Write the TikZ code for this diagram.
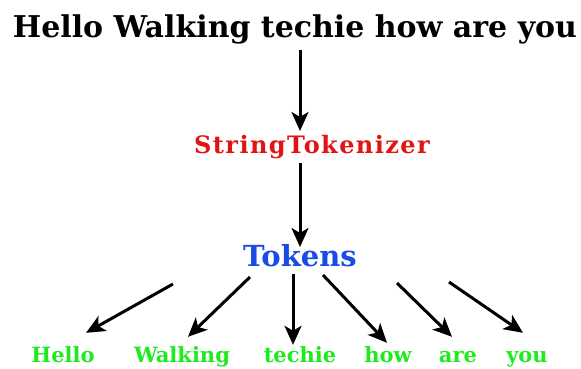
\documentclass[tikz,border=0pt]{standalone}
\usepackage{fontspec}
\setmainfont{DejaVu Serif}
\newfontfamily\spacedserif[LetterSpace=6]{DejaVu Serif}
\usetikzlibrary{arrows.meta}

\definecolor{tokred}{RGB}{225,20,20}
\definecolor{tokblue}{RGB}{25,75,230}
\definecolor{tokgreen}{RGB}{30,235,30}

\begin{document}
\begin{tikzpicture}[
        x=1pt, y=-1pt,
        arr/.style = {draw, line width=3pt, -{Stealth[length=19pt, width=17pt, inset=5pt]}}, % Стрелки
        word/.style = {font=\bfseries\fontsize{21}{21}\selectfont, text=tokgreen, inner sep=0pt, anchor=base,
                       text height=16pt, text depth=4pt}, % Слова
    ]
    \useasboundingbox (0,0) rectangle (581,369);

    \node[inner sep=0pt, anchor=base, font=\bfseries\fontsize{30}{30}\selectfont] (sentence) at (295,38) {Hello Walking techie how are you};
    \node[inner sep=0pt, anchor=base, text=tokred, font=\spacedserif\bfseries\fontsize{24}{24}\selectfont] (tokenizer) at (312,153) {StringTokenizer};
    \node[inner sep=0pt, anchor=base, text=tokblue, font=\bfseries\fontsize{29}{29}\selectfont] (tokens) at (300,266) {Tokens};

    \node[word] (hello) at (63,362) {Hello};
    \node[word] (walking) at (182,362) {Walking};
    \node[word] (techie) at (300,362) {techie};
    \node[word] (how) at (388,362) {how};
    \node[word] (are) at (458,362) {are};
    \node[word] (you) at (527,362) {you};

    \draw[arr] (sentence.south -| tokens) ++(0,5) -- (300,131);
    \draw[arr] (tokenizer.south -| tokens) ++(0,4) -- (300,247);

    % от токенов к словам
    \coordinate (t1) at (173,284);
    \coordinate (t2) at (250,277);
    \coordinate (t3) at (293,274);
    \coordinate (t4) at (323,275);
    \coordinate (t5) at (397,283);
    \coordinate (t6) at (449,282);
    \draw[arr] (t1) -- ([xshift=23pt, yshift=13pt]hello.north);
    \draw[arr] (t2) -- ([xshift=6pt, yshift=9pt]walking.north);
    \draw[arr] (t3) -- ([xshift=-7pt, yshift=1pt]techie.north);
    \draw[arr] (t4) -- ([xshift=-1pt, yshift=3pt]how.north);
    \draw[arr] (t5) -- ([xshift=-6pt, yshift=9pt]are.north);
    \draw[arr] (t6) -- ([xshift=-4pt, yshift=13pt]you.north);

\end{tikzpicture}
\end{document}
